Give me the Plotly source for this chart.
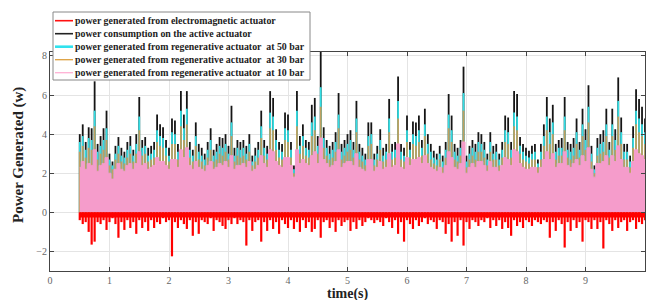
import numpy as np
import plotly.graph_objects as go

# sample times (s): 0.50 .. 10.00 every 0.05 s
T_START, T_STEP, N = 0.5, 0.05, 191
time_s = [round(T_START + T_STEP * i, 2) for i in range(N)]

# envelope values (W)
p_active = [
    4.0, 4.5, 3.6, 4.35, 4.3, 6.7, 3.5, 3.9, 4.3, 5.2,
    3.0, 2.6, 3.4, 3.85, 3.3, 3.1, 3.6, 3.9, 3.2, 4.0,
    5.9, 3.7, 3.85, 3.3, 3.4, 3.6, 5.0, 4.5, 4.35, 3.7,
    3.3, 4.8, 4.7, 3.5, 6.2, 5.0, 6.2, 3.6, 3.2, 4.6,
    3.5, 3.3, 3.0, 3.6, 4.3, 3.2, 3.5, 3.85, 3.8, 4.0,
    3.4, 5.45, 3.3, 3.7, 3.6, 3.7, 3.4, 4.0, 2.9, 3.3,
    3.6, 5.2, 3.7, 3.4, 6.2, 5.85, 4.25, 3.6, 3.5, 5.1,
    5.0, 3.6, 2.4, 6.2, 3.9, 4.5, 3.7, 3.6, 5.5, 5.85,
    3.9, 8.2, 4.35, 3.7, 3.4, 3.6, 4.1, 6.1, 3.5, 3.7,
    4.0, 4.2, 3.6, 5.7, 3.5, 3.3, 3.0, 4.6, 4.6, 3.0,
    3.4, 4.25, 3.3, 3.5, 5.8, 3.5, 3.6, 6.95, 3.5, 3.3,
    4.95, 3.6, 4.65, 4.6, 4.95, 3.7, 5.3, 4.0, 3.5, 3.15,
    3.0, 3.4, 2.9, 3.6, 6.05, 4.95, 3.5, 3.3, 3.7, 7.45,
    2.9, 3.4, 3.7, 3.5, 4.1, 4.0, 3.6, 3.0, 4.1, 3.4,
    3.5, 3.0, 3.6, 4.95, 4.85, 3.6, 6.2, 6.05, 3.85, 3.5,
    3.3, 3.15, 3.4, 3.5, 2.7, 3.5, 4.5, 5.9, 4.8, 5.5,
    3.5, 3.7, 3.8, 5.9, 3.6, 3.5, 3.8, 4.8, 3.6, 5.3,
    4.25, 6.5, 3.4, 2.4, 3.8, 4.0, 4.2, 5.3, 3.6, 5.3,
    4.25, 6.9, 4.85, 3.5, 3.5, 2.9, 4.4, 6.3, 5.8, 5.4,
    4.8,
]
p_regen50 = [
    3.6, 3.9, 3.2, 3.8, 3.7, 5.2, 3.1, 3.4, 3.7, 4.3,
    2.7, 2.4, 3.0, 3.4, 2.9, 2.8, 3.2, 3.4, 2.9, 3.5,
    4.9, 3.3, 3.4, 2.9, 3.0, 3.2, 4.2, 3.9, 3.8, 3.3,
    2.9, 4.1, 4.0, 3.1, 5.2, 4.3, 5.3, 3.2, 2.9, 3.9,
    3.1, 2.9, 2.7, 3.2, 3.7, 2.9, 3.1, 3.4, 3.3, 3.5,
    3.0, 4.6, 2.9, 3.3, 3.2, 3.3, 3.0, 3.5, 2.6, 2.9,
    3.2, 4.4, 3.3, 3.0, 5.1, 4.9, 3.7, 3.2, 3.1, 4.3,
    4.2, 3.2, 2.2, 5.2, 3.4, 3.9, 3.3, 3.2, 4.6, 4.9,
    3.4, 6.4, 3.8, 3.3, 3.0, 3.2, 3.6, 5.0, 3.1, 3.3,
    3.5, 3.7, 3.2, 4.8, 3.1, 2.9, 2.7, 3.9, 4.0, 2.7,
    3.0, 3.7, 2.9, 3.1, 4.8, 3.1, 3.2, 5.7, 3.1, 2.9,
    4.2, 3.2, 4.0, 3.9, 4.2, 3.3, 4.5, 3.5, 3.1, 2.8,
    2.7, 3.0, 2.6, 3.2, 5.0, 4.2, 3.1, 2.9, 3.3, 6.1,
    2.6, 3.0, 3.3, 3.1, 3.6, 3.5, 3.2, 2.7, 3.6, 3.0,
    3.1, 2.7, 3.2, 4.2, 4.1, 3.2, 5.1, 4.9, 3.4, 3.1,
    2.9, 2.8, 3.0, 3.1, 2.5, 3.1, 3.9, 4.9, 4.1, 4.6,
    3.1, 3.3, 3.3, 4.9, 3.2, 3.1, 3.3, 4.1, 3.2, 4.5,
    3.7, 5.4, 3.0, 2.2, 3.3, 3.5, 3.6, 4.5, 3.2, 4.5,
    3.7, 5.7, 4.1, 3.1, 3.1, 2.6, 3.8, 5.2, 4.8, 4.5,
    4.1,
]
p_regen30 = [
    3.1, 3.4, 2.8, 3.3, 3.2, 4.4, 2.7, 3.0, 3.2, 3.7,
    2.4, 2.2, 2.7, 3.0, 2.6, 2.5, 2.8, 3.0, 2.6, 3.0,
    4.2, 2.9, 3.0, 2.6, 2.7, 2.8, 3.6, 3.4, 3.3, 2.9,
    2.6, 3.5, 3.5, 2.7, 4.4, 3.7, 4.5, 2.8, 2.6, 3.4,
    2.7, 2.6, 2.4, 2.8, 3.2, 2.6, 2.7, 3.0, 2.9, 3.1,
    2.7, 3.9, 2.6, 2.9, 2.8, 2.9, 2.7, 3.1, 2.4, 2.6,
    2.8, 3.8, 2.9, 2.7, 4.3, 4.2, 3.2, 2.8, 2.7, 3.7,
    3.6, 2.8, 2.0, 4.4, 3.0, 3.4, 2.9, 2.8, 3.9, 4.2,
    3.0, 5.4, 3.3, 2.9, 2.7, 2.8, 3.1, 4.3, 2.7, 2.9,
    3.1, 3.2, 2.8, 4.1, 2.7, 2.6, 2.4, 3.4, 3.5, 2.4,
    2.7, 3.2, 2.6, 2.7, 4.1, 2.7, 2.8, 4.8, 2.7, 2.6,
    3.6, 2.8, 3.5, 3.4, 3.6, 2.9, 3.9, 3.0, 2.7, 2.5,
    2.4, 2.7, 2.3, 2.8, 4.3, 3.6, 2.7, 2.6, 2.9, 5.2,
    2.3, 2.7, 2.9, 2.7, 3.1, 3.1, 2.8, 2.4, 3.1, 2.7,
    2.7, 2.4, 2.8, 3.6, 3.5, 2.8, 4.4, 4.2, 3.0, 2.7,
    2.6, 2.5, 2.7, 2.7, 2.3, 2.7, 3.4, 4.2, 3.5, 4.0,
    2.7, 2.9, 2.9, 4.2, 2.8, 2.7, 2.9, 3.5, 2.8, 3.9,
    3.2, 4.6, 2.6, 2.0, 2.9, 3.0, 3.1, 3.9, 2.8, 3.9,
    3.2, 4.9, 3.5, 2.7, 2.7, 2.3, 3.3, 4.5, 4.1, 3.9,
    3.5,
]
p_regen10 = [
    2.3, 2.6, 2.2, 2.5, 2.4, 3.2, 2.1, 2.4, 2.5, 2.8,
    2.0, 1.7, 2.2, 2.5, 2.2, 2.1, 2.4, 2.5, 2.2, 2.5,
    3.1, 2.4, 2.5, 2.2, 2.3, 2.4, 2.8, 2.6, 2.6, 2.4,
    2.2, 2.7, 2.7, 2.3, 3.2, 2.8, 3.3, 2.4, 2.2, 2.6,
    2.3, 2.2, 2.1, 2.4, 2.6, 2.2, 2.3, 2.5, 2.4, 2.6,
    2.3, 2.9, 2.2, 2.4, 2.4, 2.5, 2.3, 2.6, 2.1, 2.2,
    2.4, 2.9, 2.5, 2.3, 3.2, 3.1, 2.6, 2.4, 2.3, 2.8,
    2.8, 2.4, 1.8, 3.2, 2.5, 2.7, 2.5, 2.4, 2.9, 3.1,
    2.5, 3.8, 2.7, 2.5, 2.3, 2.4, 2.6, 3.2, 2.3, 2.5,
    2.6, 2.6, 2.4, 3.0, 2.3, 2.2, 2.1, 2.7, 2.7, 2.1,
    2.3, 2.6, 2.2, 2.3, 3.0, 2.3, 2.4, 3.5, 2.3, 2.2,
    2.8, 2.4, 2.7, 2.7, 2.8, 2.5, 2.9, 2.5, 2.3, 2.2,
    2.1, 2.3, 2.0, 2.4, 3.1, 2.8, 2.3, 2.2, 2.5, 3.6,
    2.0, 2.3, 2.5, 2.3, 2.6, 2.6, 2.4, 2.1, 2.6, 2.3,
    2.3, 2.1, 2.4, 2.8, 2.7, 2.4, 3.2, 3.1, 2.5, 2.3,
    2.2, 2.2, 2.3, 2.3, 2.0, 2.3, 2.7, 3.1, 2.7, 3.0,
    2.3, 2.5, 2.5, 3.1, 2.4, 2.3, 2.5, 2.7, 2.4, 2.9,
    2.6, 3.3, 2.2, 1.8, 2.5, 2.5, 2.6, 2.9, 2.4, 2.9,
    2.6, 3.4, 2.7, 2.3, 2.3, 2.0, 2.6, 3.2, 3.0, 2.9,
    2.7,
]
p_em = [
    -0.4, -0.6, -0.5, -1.0, -1.65, -1.5, -0.5, -0.6, -0.4, -0.9,
    -0.5, -0.3, -0.6, -1.3, -0.5, -0.9, -0.4, -0.8, -0.5, -1.1,
    -0.4, -0.8, -0.5, -0.95, -0.4, -0.8, -0.5, -0.6, -0.3, -0.5,
    -0.4, -2.25, -0.5, -0.8, -0.4, -0.6, -0.85, -0.4, -1.2, -0.5,
    -1.1, -0.4, -0.5, -0.6, -0.3, -0.95, -0.4, -0.5, -0.7, -0.85,
    -0.4, -0.6, -0.3, -0.6, -0.4, -0.5, -1.7, -0.4, -0.95, -0.5,
    -0.4, -1.5, -0.5, -0.95, -0.4, -0.85, -0.5, -1.1, -0.4, -0.6,
    -0.8, -0.4, -0.85, -0.5, -1.0, -0.4, -0.8, -0.5, -1.0, -0.85,
    -0.4, -1.3, -0.5, -0.4, -0.8, -0.5, -1.0, -0.4, -0.7, -0.5,
    -0.4, -0.95, -0.5, -0.85, -0.4, -0.7, -0.5, -0.3, -0.4, -0.55,
    -0.4, -0.5, -0.7, -0.3, -0.5, -0.8, -0.4, -1.1, -0.5, -1.5,
    -0.4, -0.6, -0.85, -0.4, -0.7, -0.5, -0.3, -0.6, -0.4, -0.5,
    -0.85, -0.4, -0.5, -1.1, -0.6, -1.5, -0.5, -1.2, -0.4, -1.7,
    -0.5, -0.85, -0.4, -0.5, -0.7, -0.4, -0.5, -0.3, -0.8, -0.4,
    -0.7, -0.4, -0.85, -0.5, -0.8, -1.2, -0.4, -0.7, -0.5, -0.8,
    -0.4, -0.5, -0.7, -0.4, -0.5, -0.6, -0.4, -0.5, -1.3, -0.5,
    -0.95, -0.4, -0.6, -1.8, -0.5, -0.95, -0.4, -0.8, -0.5, -1.5,
    -0.4, -0.5, -0.85, -0.4, -0.85, -0.5, -1.85, -0.4, -0.6, -0.95,
    -0.4, -0.8, -0.5, -0.4, -0.95, -0.5, -0.4, -0.85, -0.5, -0.6,
    -0.4,
]

x_ticks = [0, 1, 2, 3, 4, 5, 6, 7, 8, 9, 10]
y_ticks = [-2, 0, 2, 4, 6, 8]

FONT = "Liberation Serif"

# plot-area geometry in pixels (for converting legend placement to paper coords)
W, H = 649, 300
ML, MR, MT, MB = 50, 4, 52, 29
PW, PH = W - ML - MR, H - MT - MB


def px_x(p):
    return (p - ML) / PW


def px_y(p):
    return (H - MB - p) / PH


def stems(t, v):
    xs, ys = [], []
    for ti, vi in zip(t, v):
        xs += [ti, ti, None]
        ys += [0, vi, None]
    return xs, ys


names = [
    "power generated from electromagnetic actuator",
    "power consumption on the active actuator",
    "power generated from regenerative actuator  at 50 bar",
    "power generated from regenerative actuator  at 30 bar",
    "power generated from regenerative actuator  at 10 bar",
]
legend_colors = ["#FF1010", "#222222", "#30E2EE", "#DDA040", "#FFB0D4"]
legend_widths = [1.6, 1.6, 2.6, 1.3, 1.3]

fig = go.Figure()

# spikes: black, cyan, orange as thin stems
for name, vals, col in [
    (names[1], p_active, "#151515"),
    (names[2], p_regen50, "#33DDE3"),
    (names[3], p_regen30, "#BFA060"),
]:
    xs, ys = stems(time_s, vals)
    fig.add_trace(go.Scatter(x=xs, y=ys, mode="lines", name=name,
                             line=dict(color=col, width=1.8),
                             hoverinfo="skip", showlegend=False))

# dense pink band as a step-filled area
fig.add_trace(go.Scatter(x=time_s, y=p_regen10, mode="lines", name=names[4],
                         line=dict(color="#F59CCB", width=1, shape="hvh"),
                         fill="tozeroy", fillcolor="#F59CCB",
                         hoverinfo="skip", showlegend=False))
# red: stems plus a solid band near zero
xs, ys = stems(time_s, p_em)
fig.add_trace(go.Scatter(x=xs, y=ys, mode="lines", name=names[0],
                         line=dict(color="#FF0000", width=2.2),
                         hoverinfo="skip", showlegend=False))
fig.add_trace(go.Scatter(x=time_s, y=[-0.25 if v < -0.25 else v for v in p_em],
                         mode="lines", name=names[0],
                         line=dict(color="#FF0000", width=0.5, shape="hvh"),
                         fill="tozeroy", fillcolor="#FF0000",
                         hoverinfo="skip", showlegend=False))

# hand-built legend (compact rows like the original)
shapes = [dict(type="rect", xref="paper", yref="paper",
               x0=px_x(53), x1=px_x(310), y0=px_y(80), y1=px_y(12),
               fillcolor="white", line=dict(color="#888", width=1), layer="above")]
annotations = []
row_y = [20.7, 33.7, 46.7, 59.7, 72.7]
for i, name in enumerate(names):
    shapes.append(dict(type="line", xref="paper", yref="paper",
                       x0=px_x(55), x1=px_x(73), y0=px_y(row_y[i]), y1=px_y(row_y[i]),
                       line=dict(color=legend_colors[i], width=legend_widths[i]), layer="above"))
    annotations.append(dict(text=name, xref="paper", yref="paper",
                            x=px_x(73), y=px_y(row_y[i]), xanchor="left", yanchor="middle",
                            showarrow=False,
                            font=dict(family=FONT, size=9.9, color="#222", weight="bold")))

annotations.append(dict(text="time(s)", xref="paper", yref="paper",
                        x=px_x(348), y=px_y(293.5), xanchor="center", yanchor="middle",
                        showarrow=False,
                        font=dict(family=FONT, size=14, color="#222", weight="bold")))
annotations.append(dict(text="Power Generated (w)", xref="paper", yref="paper",
                        x=px_x(18), y=px_y(155), xanchor="center", yanchor="middle",
                        textangle=-90, showarrow=False,
                        font=dict(family=FONT, size=15, color="#222", weight="bold")))

fig.update_layout(
    width=W, height=H,
    margin=dict(l=ML, r=MR, t=MT, b=MB, autoexpand=False),
    paper_bgcolor="white", plot_bgcolor="white",
    font=dict(family=FONT, color="#333"),
    showlegend=False,
    shapes=shapes, annotations=annotations,
    xaxis=dict(
        range=[0, 10], tickvals=x_ticks, showgrid=True, gridcolor="#E4E4E4",
        showline=True, linecolor="#444", linewidth=1, mirror="ticks",
        ticks="inside", ticklen=4, tickcolor="#444", zeroline=False,
        tickfont=dict(family=FONT, size=10, color="#666"), automargin=False,
    ),
    yaxis=dict(
        range=[-3, 8.2], tickvals=y_ticks, showgrid=True, gridcolor="#E4E4E4",
        showline=True, linecolor="#444", linewidth=1, mirror="ticks",
        ticks="inside", ticklen=4, tickcolor="#444", zeroline=False,
        tickfont=dict(family=FONT, size=10, color="#666"), automargin=False,
    ),
)

fig.write_html("out.html", config={"displayModeBar": False},
               post_script="document.body.style.margin='0';document.body.style.overflow='hidden';")
